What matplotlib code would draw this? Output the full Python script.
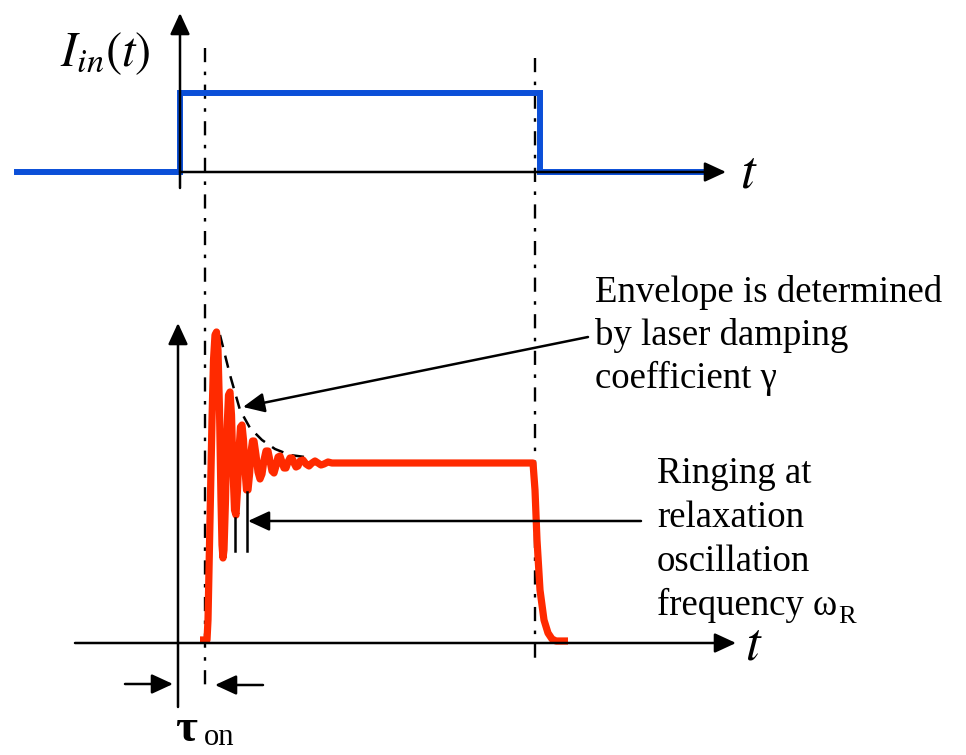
import matplotlib.pyplot as plt

plt.rcParams['mathtext.fontset'] = 'stix'
SERIF = 'Liberation Serif'

# all values are in picture coordinates (x to the right, y downward)
# input current step
blue_t = [17, 180, 180, 540, 540, 703]
blue_i = [172, 172, 93, 93, 172, 172]

# laser output with relaxation oscillations
red_t = [200, 207, 208, 210, 212, 213.5, 215, 216.5, 218, 219.5, 221, 222, 223,
         224, 225.5, 227, 228.5, 230, 231.5, 233, 234.5, 236, 237.5, 239, 240.5,
         242, 243.5, 245, 246.5, 248, 249.5, 251, 252.5, 254, 256, 258, 260, 262,
         264, 266, 268, 270, 272, 274, 276, 278, 280, 282, 284, 286, 288, 290,
         292, 294, 296, 298, 300, 303, 306, 309, 312, 315, 318, 321, 324, 328,
         332, 340, 533, 535, 537, 540, 544, 548, 552, 556, 568]
red_p = [640, 640, 620, 520, 420, 360, 335, 332, 350, 410, 500, 545, 558,
         550, 500, 430, 395, 392, 415, 470, 510, 515, 490, 450, 427,
         425, 440, 470, 490, 490, 475, 452, 441, 441, 455, 472, 479, 474,
         460, 451, 451, 461, 471, 473, 466, 457, 456, 462, 468, 468, 462, 458,
         458, 463, 467, 466, 461, 460, 464, 466, 463, 461, 463, 465, 464, 462,
         463, 463, 463, 490, 540, 590, 620, 633, 639, 641, 641]

# damping envelope
env_t = [220, 230, 240, 250, 262, 275, 290, 305]
env_p = [335, 375, 410, 428, 440, 449, 455, 457]

envelope_text = ['Envelope is determined', 'by laser damping', 'coefficient γ']
ringing_text = ['Ringing at', 'relaxation', 'oscillation', 'frequency ω']

fig = plt.figure(figsize=(9.66, 7.55), dpi=100)
ax = fig.add_axes([0, 0, 1, 1])
ax.set_xlim(0, 966)
ax.set_ylim(755, 0)
ax.axis('off')

head = dict(arrowstyle='-|>,head_length=0.65,head_width=0.3', mutation_scale=20,
            color='black', lw=1.8, shrinkA=0, shrinkB=0)

def arrow(x0, y0, x1, y1):
    ax.annotate('', xy=(x1, y1), xytext=(x0, y0), arrowprops=head)

# axes of both panels
arrow(180, 188, 180, 13)
arrow(180, 172, 726, 172)
arrow(178, 707, 178, 323)
arrow(75, 643, 736, 643)

# dash-dot guides
ax.plot([205, 205], [48, 690], color='black', lw=1.7, ls=(0, (6, 4, 1.5, 4)))
ax.plot([535, 535], [58, 662], color='black', lw=1.7, ls=(0, (6, 4, 1.5, 4)))

ax.plot(blue_t, blue_i, color='#0b4fd8', lw=4.3, solid_joinstyle='miter')
ax.plot(env_t, env_p, color='black', lw=1.8, ls=(0, (5, 3.5)))
ax.plot(red_t, red_p, color='#ff2a00', lw=5.2, solid_joinstyle='round',
        solid_capstyle='butt')

# marks of the ringing period
ax.plot([235, 235], [518, 551], color='black', lw=1.8)
ax.plot([247, 247], [492, 551], color='black', lw=1.8)

arrow(588, 337, 243, 407)
arrow(641, 521, 248, 521)
arrow(125, 684, 173, 684)
arrow(263, 685, 215, 685)

# labels
ax.text(60, 66, r'$I_{in}(t)$', fontsize=35, va='baseline', ha='left')
ax.text(740, 187, r'$t$', fontsize=38, va='baseline', ha='left')
ax.text(745, 660, r'$t$', fontsize=38, va='baseline', ha='left')
ax.text(175, 741, 'τ', fontsize=34, fontweight='bold', family=SERIF,
        va='baseline', ha='left')
ax.text(204, 745, 'on', fontsize=22, family=SERIF, va='baseline', ha='left')

for k, line in enumerate(envelope_text):
    ax.text(595, 302 + 43 * k, line, fontsize=26.5, family=SERIF,
            va='baseline', ha='left')
for k, line in enumerate(ringing_text):
    ax.text(657, 483 + 44 * k, line, fontsize=26.5, family=SERIF,
            va='baseline', ha='left')
ax.text(838, 623, 'R', fontsize=19, family=SERIF, va='baseline', ha='left')

fig.savefig('out.png', dpi=100)
